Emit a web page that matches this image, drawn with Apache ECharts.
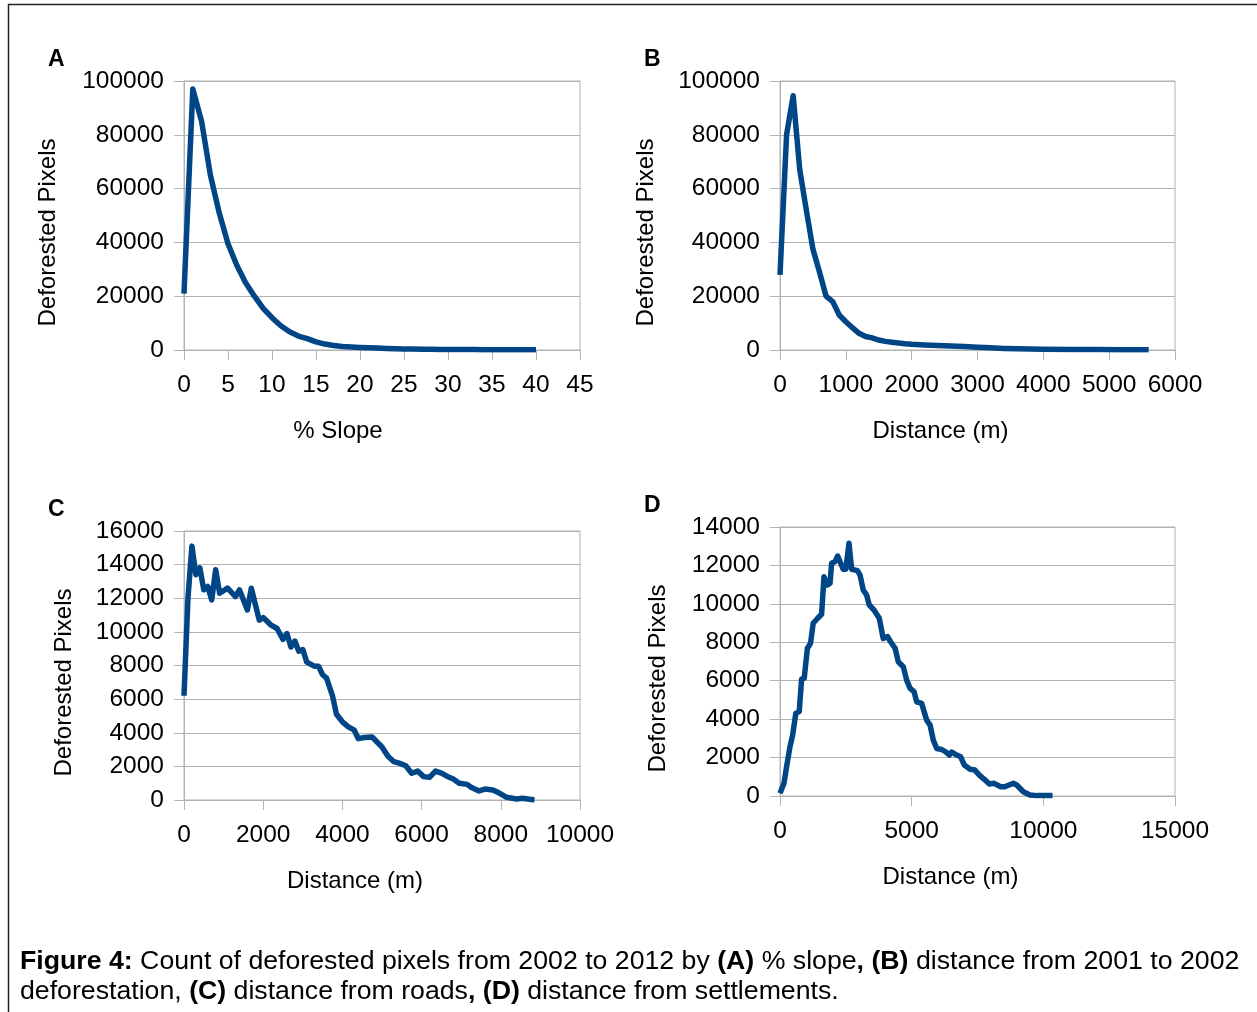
<!DOCTYPE html>
<html>
<head>
<meta charset="utf-8">
<script src="https://cdn.jsdelivr.net/npm/echarts@6/dist/echarts.min.js"></script>
<style>
  html, body { margin: 0; padding: 0; background: #fff; }
  #chart { width: 1257px; height: 1012px; }
</style>
</head>
<body>
<div id="chart"></div>
<script>
// A: % slope
const slopeX = [0, 1, 2, 3, 4, 5, 6, 7, 8, 9, 10, 11, 12, 13, 14, 15, 16, 17, 18, 19, 20,
  21, 22, 23, 24, 25, 26, 27, 28, 29, 30, 31, 32, 33, 34, 35, 36, 37, 38, 39, 40];
const slopeCount = [21000, 97000, 85000, 65000, 51000, 39500, 31500, 25000, 20000, 15500, 12000,
  9000, 6800, 5200, 4200, 3000, 2200, 1700, 1300, 1100, 950,
  800, 700, 600, 500, 400, 350, 300, 250, 220, 200, 180, 160, 140, 120, 100, 90, 80, 70, 60, 50];

// B: distance from 2001-2002 deforestation
const prevDist = [0, 100, 200, 300, 400, 500, 600, 700, 800, 900, 1000, 1100, 1200, 1300, 1400,
  1500, 1600, 1700, 1800, 1900, 2000, 2200, 2400, 2600, 2800, 3000, 3200, 3400, 3600, 3800,
  4000, 4400, 4800, 5200, 5600];
const prevCount = [27900, 80000, 94500, 67000, 52000, 37500, 29000, 20000, 18000, 13000, 10500,
  8300, 6200, 5000, 4500, 3700, 3200, 2900, 2600, 2300, 2100, 1900, 1700, 1500, 1300, 1000,
  800, 600, 450, 350, 250, 200, 150, 100, 50];

// C: distance from roads
const roadDist = [0, 100, 200, 300, 400, 500, 600, 700, 800, 900, 1100, 1300, 1400, 1600, 1700,
  1900, 2000, 2200, 2350, 2500, 2600, 2700, 2800, 2900, 3000, 3100, 3300, 3400, 3500, 3600,
  3750, 3850, 4000, 4150, 4300, 4400, 4550, 4750, 5000, 5150, 5300, 5450, 5600, 5750, 5900,
  6050, 6200, 6350, 6500, 6650, 6800, 6950, 7150, 7250, 7450, 7600, 7800, 7950, 8150, 8400,
  8550, 8850];
const roadCount = [6200, 12000, 15100, 13400, 13800, 12500, 12700, 11900, 13700, 12300, 12600,
  12100, 12500, 11300, 12600, 10700, 10850, 10400, 10200, 9550, 9900, 9100, 9450, 8850, 8950,
  8200, 7950, 7950, 7450, 7250, 6200, 5100, 4650, 4350, 4150, 3650, 3720, 3750, 3150, 2600,
  2280, 2180, 2040, 1590, 1720, 1390, 1350, 1720, 1600, 1400, 1250, 1000, 930, 760, 540,
  650, 600, 430, 160, 60, 100, 0];

// D: distance from settlements
const settleDist = [0, 150, 250, 380, 480, 600, 730, 820, 920, 1040, 1160, 1260, 1430, 1580,
  1670, 1800, 1900, 1960, 2090, 2190, 2400, 2500, 2620, 2720, 2940, 3040, 3160, 3290, 3390,
  3570, 3770, 3920, 4080, 4200, 4370, 4490, 4680, 4810, 4940, 5090, 5190, 5380, 5570, 5700,
  5820, 5950, 6140, 6300, 6430, 6520, 6710, 6860, 7000, 7220, 7400, 7570, 7790, 7950, 8130,
  8380, 8540, 8860, 8990, 9240, 9490, 9750, 10350];
const settleCount = [140, 660, 1520, 2570, 3170, 4300, 4390, 6080, 6130, 7690, 7950, 8990, 9250,
  9460, 11410, 10980, 11070, 12110, 12200, 12490, 11800, 11800, 13150, 11800, 11730, 11500,
  10720, 10460, 9940, 9680, 9250, 8200, 8300, 8030, 7690, 6990, 6730, 6030, 5600, 5430, 4900,
  4820, 3950, 3690, 2910, 2470, 2420, 2290, 2130, 2290, 2130, 2040, 1610, 1390, 1350, 1090,
  830, 620, 660, 480, 480, 660, 570, 220, 50, 20, 20];

const panelLetters = ['A', 'B', 'C', 'D'];
const xNames = ['% Slope', 'Distance (m)', 'Distance (m)', 'Distance (m)'];
const yName = 'Deforested Pixels';
const caption = '{b|Figure 4:} Count of deforested pixels from 2002 to 2012 by {b|(A)} % slope{b|,} {b|(B)} distance from 2001 to 2002\n' +
  'deforestation, {b|(C)} distance from roads{b|,} {b|(D)} distance from settlements.';

const FONT = 'Liberation Sans, Arial, sans-serif';
const GREY = '#b3b3b3';
const BLUE = '#004586';

const grids = [
  { left: 184, top: 81, width: 396, height: 269 },
  { left: 780, top: 81, width: 395, height: 269 },
  { left: 184, top: 531, width: 396, height: 269 },
  { left: 780, top: 527, width: 395, height: 269 }
];
const xRanges = [[0, 45, 5], [0, 6000, 1000], [0, 10000, 2000], [0, 15000, 5000]];
const yRanges = [[0, 100000, 20000], [0, 100000, 20000], [0, 16000, 2000], [0, 14000, 2000]];
const xNameShift = [88, 74, 54, 54];
const yNameGap = [124, 122, 108, 110];
const letterPos = [[48, 48], [644, 48], [48, 498], [644, 494]];

const pairs = (xs, ys) => xs.map((x, i) => [x, ys[i]]);
const seriesData = [
  pairs(slopeX, slopeCount),
  pairs(prevDist, prevCount),
  pairs(roadDist, roadCount),
  pairs(settleDist, settleCount)
];

const chart = echarts.init(document.getElementById('chart'));

chart.setOption({
  backgroundColor: '#fff',
  animation: false,
  textStyle: { fontFamily: FONT },
  title: panelLetters.map((t, i) => ({
    text: t, left: letterPos[i][0], top: letterPos[i][1], padding: 0,
    textStyle: { fontSize: 23, fontWeight: 'bold', color: '#000', fontFamily: FONT }
  })),
  grid: grids.map((g) => ({ ...g, show: true, borderColor: GREY, borderWidth: 1, containLabel: false })),
  xAxis: grids.map((g, i) => ({
    type: 'value', gridIndex: i,
    min: xRanges[i][0], max: xRanges[i][1], interval: xRanges[i][2],
    name: xNames[i], nameLocation: 'middle', nameGap: 69,
    nameTextStyle: { fontSize: 24, color: '#000', fontFamily: FONT, padding: [0, xNameShift[i], 0, 0] },
    axisLine: { show: true, onZero: false, lineStyle: { color: GREY, width: 1 } },
    axisTick: { show: true, length: 10, lineStyle: { color: GREY } },
    axisLabel: { fontSize: 24.5, color: '#000', margin: 23, fontFamily: FONT, showMaxLabel: true,
      formatter: (v) => String(v) },
    splitLine: { show: false }
  })),
  yAxis: grids.map((g, i) => ({
    type: 'value', gridIndex: i,
    min: yRanges[i][0], max: yRanges[i][1], interval: yRanges[i][2],
    name: yName, nameLocation: 'middle', nameGap: yNameGap[i],
    nameTextStyle: { fontSize: 24, color: '#000', fontFamily: FONT, padding: [0, 34, 0, 0] },
    axisLine: { show: true, lineStyle: { color: GREY, width: 1 } },
    axisTick: { show: true, length: 10, lineStyle: { color: GREY } },
    axisLabel: { fontSize: 24.5, color: '#000', margin: 20, fontFamily: FONT,
      formatter: (v) => String(v) },
    splitLine: { show: true, lineStyle: { color: GREY, width: 1 } }
  })),
  series: seriesData.map((d, i) => ({
    type: 'line', xAxisIndex: i, yAxisIndex: i,
    data: d, symbol: 'none', smooth: false,
    lineStyle: { color: BLUE, width: 5.5, join: 'round', cap: 'butt' }
  })),
  graphic: [
    {
      type: 'rect', silent: true,
      shape: { x: 8.5, y: 4.5, width: 1400, height: 1200 },
      style: { fill: 'none', stroke: '#222', lineWidth: 1.5 }
    },
    {
      type: 'text', left: 20, top: 947,
      style: {
        text: caption, fill: '#000', fontSize: 26.7, fontFamily: FONT, lineHeight: 30,
        rich: { b: { fontWeight: 'bold', fontSize: 26.7, fontFamily: FONT, lineHeight: 30 } }
      }
    }
  ]
});

window.addEventListener('resize', () => chart.resize());
</script>
</body>
</html>
